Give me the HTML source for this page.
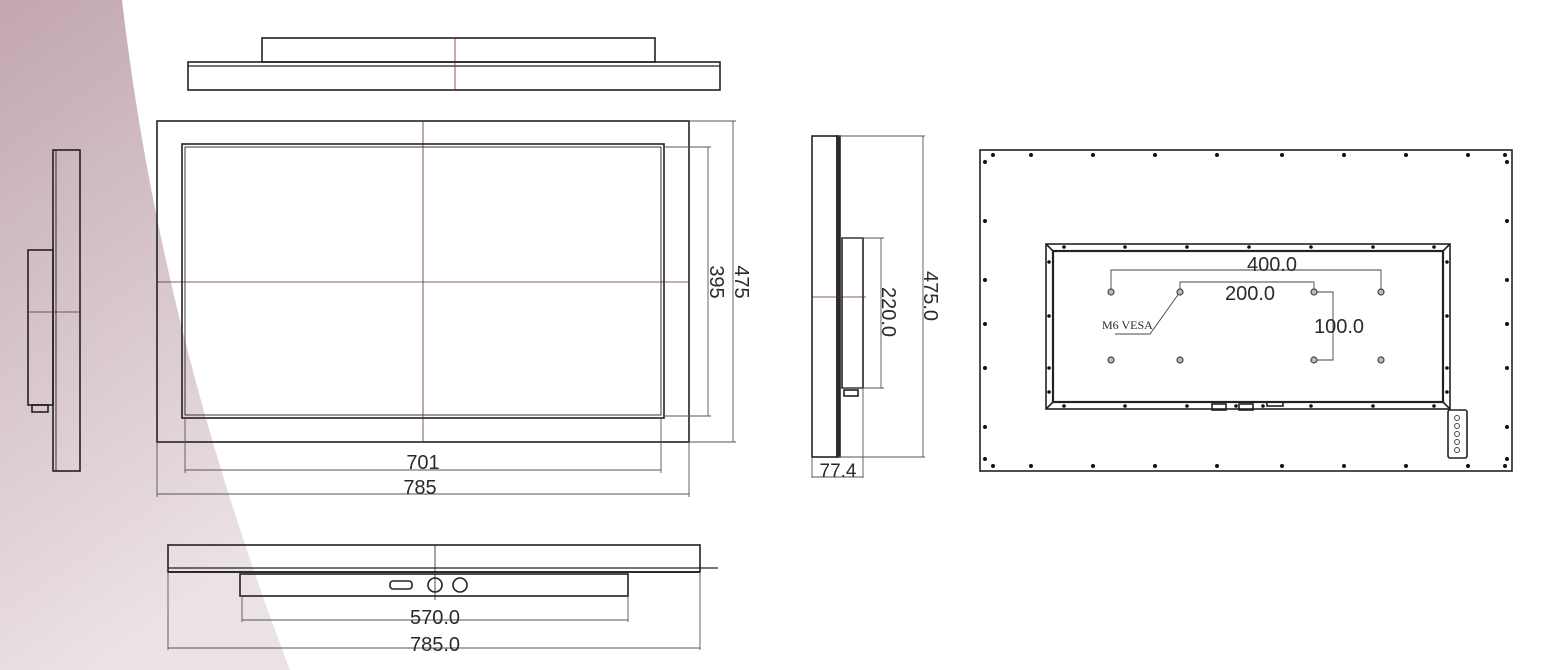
<!DOCTYPE html>
<html><head><meta charset="utf-8"><style>
html,body{margin:0;padding:0;background:#fff;width:1543px;height:670px;overflow:hidden}
svg{display:block}
text{font-family:"Liberation Sans",sans-serif;fill:#2a2a2a}
</style></head><body>
<svg width="1543" height="670" viewBox="0 0 1543 670" xmlns="http://www.w3.org/2000/svg">
<defs>
<linearGradient id="bg" x1="0" y1="0" x2="0.3" y2="1">
<stop offset="0" stop-color="#c2a6b1"/><stop offset="1" stop-color="#ebe2e6"/>
</linearGradient>
</defs>
<path d="M0,0 L122,0 Q160,330 290,670 L0,670 Z" fill="url(#bg)"/>
<g fill="none" stroke="#222" stroke-width="1.6">
<rect x="262" y="38" width="393" height="24"/>
<rect x="188" y="62" width="532" height="28"/>
<line x1="188" y1="66" x2="720" y2="66" stroke-width="1.2"/>
<line x1="455" y1="38" x2="455" y2="90" stroke="#7a2a2a" stroke-width="0.8"/>
<rect x="157" y="121" width="532" height="321"/>
<rect x="182" y="144" width="482" height="274"/>
<rect x="185" y="147" width="476" height="268" stroke-width="0.9"/>
<line x1="423" y1="121" x2="423" y2="442" stroke="#5a2a2a" stroke-width="0.8"/>
<line x1="157" y1="282" x2="689" y2="282" stroke="#5a2a2a" stroke-width="0.8"/>
<g stroke="#555" stroke-width="0.9">
<line x1="689" y1="121" x2="736" y2="121"/><line x1="689" y1="442" x2="736" y2="442"/>
<line x1="733" y1="121" x2="733" y2="442"/>
<line x1="664" y1="147" x2="711" y2="147"/><line x1="664" y1="416" x2="711" y2="416"/>
<line x1="708" y1="147" x2="708" y2="416"/>
<line x1="185" y1="418" x2="185" y2="473"/><line x1="661" y1="418" x2="661" y2="473"/>
<line x1="185" y1="470" x2="661" y2="470"/>
<line x1="157" y1="442" x2="157" y2="497"/><line x1="689" y1="442" x2="689" y2="497"/>
<line x1="157" y1="494" x2="689" y2="494"/>
</g>
<rect x="53" y="150" width="27" height="321"/>
<line x1="56" y1="150" x2="56" y2="471" stroke-width="0.9"/>
<rect x="28" y="250" width="25" height="155"/>
<line x1="28" y1="312" x2="80" y2="312" stroke="#5a2a2a" stroke-width="0.8"/>
<rect x="32" y="405" width="16" height="7"/>
<rect x="812" y="136" width="25" height="321"/>
<rect x="837" y="136" width="3" height="321" fill="#333"/>
<rect x="842" y="238" width="21" height="150"/>
<rect x="844" y="390" width="14" height="6"/>
<line x1="812" y1="297" x2="866" y2="297" stroke="#5a2a2a" stroke-width="0.8"/>
<g stroke="#555" stroke-width="0.9">
<line x1="842" y1="238" x2="884" y2="238"/><line x1="842" y1="388" x2="884" y2="388"/>
<line x1="881" y1="238" x2="881" y2="388"/>
<line x1="838" y1="136" x2="925" y2="136"/><line x1="838" y1="457" x2="925" y2="457"/>
<line x1="923" y1="136" x2="923" y2="457"/>
<line x1="812" y1="457" x2="812" y2="478"/><line x1="863" y1="388" x2="863" y2="478"/>
<line x1="812" y1="477" x2="863" y2="477"/>
</g>
<rect x="168" y="545" width="532" height="27"/>
<line x1="168" y1="568" x2="718" y2="568" stroke-width="1.2"/>
<line x1="168" y1="572" x2="700" y2="572" stroke-width="1.8"/>
<rect x="240" y="574" width="388" height="22"/>
<line x1="435" y1="545" x2="435" y2="600" stroke-width="0.8"/>
<circle cx="435" cy="585" r="7"/><circle cx="460" cy="585" r="7"/>
<rect x="390" y="581" width="22" height="8" rx="3"/>
<g stroke="#555" stroke-width="0.9">
<line x1="242" y1="596" x2="242" y2="622"/><line x1="628" y1="596" x2="628" y2="622"/>
<line x1="242" y1="620" x2="628" y2="620"/>
<line x1="168" y1="572" x2="168" y2="650"/><line x1="700" y1="572" x2="700" y2="650"/>
<line x1="168" y1="648" x2="700" y2="648"/>
</g>
<rect x="980" y="150" width="532" height="321"/>
<rect x="1046" y="244" width="404" height="165"/>
<rect x="1053" y="251" width="390" height="151" stroke-width="2.2"/>
<line x1="1046" y1="244" x2="1053" y2="251"/><line x1="1450" y1="244" x2="1443" y2="251"/>
<line x1="1046" y1="409" x2="1053" y2="402"/><line x1="1450" y1="409" x2="1443" y2="402"/>
<rect x="1448" y="410" width="19" height="48" rx="2"/>
<rect x="1212" y="404" width="14" height="6"/><rect x="1239" y="404" width="14" height="6"/>
<rect x="1267" y="402" width="16" height="4"/>
<g stroke="#444" stroke-width="0.9">
<polyline points="1111,292 1111,270 1381,270 1381,292"/>
<polyline points="1180,292 1180,282 1314,282 1314,292"/>
<polyline points="1314,292 1333,292 1333,360 1314,360"/>
<polyline points="1180,292 1150,334 1115,334"/>
</g>
<g stroke="#444" fill="#bbb" stroke-width="1.2">
<circle cx="1111" cy="292" r="3"/><circle cx="1180" cy="292" r="3"/><circle cx="1314" cy="292" r="3"/><circle cx="1381" cy="292" r="3"/>
<circle cx="1111" cy="360" r="3"/><circle cx="1180" cy="360" r="3"/><circle cx="1314" cy="360" r="3"/><circle cx="1381" cy="360" r="3"/>
</g>
<g stroke="#444" stroke-width="1">
<circle cx="1457" cy="418" r="2.5"/><circle cx="1457" cy="426" r="2.5"/><circle cx="1457" cy="434" r="2.5"/><circle cx="1457" cy="442" r="2.5"/><circle cx="1457" cy="450" r="2.5"/>
</g>
</g>
<g fill="#111">
<circle cx="993" cy="155" r="2"/><circle cx="1031" cy="155" r="2"/><circle cx="1093" cy="155" r="2"/><circle cx="1155" cy="155" r="2"/><circle cx="1217" cy="155" r="2"/><circle cx="1282" cy="155" r="2"/><circle cx="1344" cy="155" r="2"/><circle cx="1406" cy="155" r="2"/><circle cx="1468" cy="155" r="2"/><circle cx="1505" cy="155" r="2"/>
<circle cx="993" cy="466" r="2"/><circle cx="1031" cy="466" r="2"/><circle cx="1093" cy="466" r="2"/><circle cx="1155" cy="466" r="2"/><circle cx="1217" cy="466" r="2"/><circle cx="1282" cy="466" r="2"/><circle cx="1344" cy="466" r="2"/><circle cx="1406" cy="466" r="2"/><circle cx="1468" cy="466" r="2"/><circle cx="1505" cy="466" r="2"/>
<circle cx="985" cy="162" r="2"/><circle cx="985" cy="221" r="2"/><circle cx="985" cy="280" r="2"/><circle cx="985" cy="324" r="2"/><circle cx="985" cy="368" r="2"/><circle cx="985" cy="427" r="2"/><circle cx="985" cy="459" r="2"/>
<circle cx="1507" cy="162" r="2"/><circle cx="1507" cy="221" r="2"/><circle cx="1507" cy="280" r="2"/><circle cx="1507" cy="324" r="2"/><circle cx="1507" cy="368" r="2"/><circle cx="1507" cy="427" r="2"/><circle cx="1507" cy="459" r="2"/>
<circle cx="1064" cy="247" r="1.8"/><circle cx="1125" cy="247" r="1.8"/><circle cx="1187" cy="247" r="1.8"/><circle cx="1249" cy="247" r="1.8"/><circle cx="1311" cy="247" r="1.8"/><circle cx="1373" cy="247" r="1.8"/><circle cx="1434" cy="247" r="1.8"/>
<circle cx="1064" cy="406" r="1.8"/><circle cx="1125" cy="406" r="1.8"/><circle cx="1187" cy="406" r="1.8"/><circle cx="1236" cy="406" r="1.8"/><circle cx="1263" cy="406" r="1.8"/><circle cx="1311" cy="406" r="1.8"/><circle cx="1373" cy="406" r="1.8"/><circle cx="1434" cy="406" r="1.8"/>
<circle cx="1049" cy="262" r="1.8"/><circle cx="1049" cy="316" r="1.8"/><circle cx="1049" cy="368" r="1.8"/><circle cx="1049" cy="392" r="1.8"/>
<circle cx="1447" cy="262" r="1.8"/><circle cx="1447" cy="316" r="1.8"/><circle cx="1447" cy="368" r="1.8"/><circle cx="1447" cy="392" r="1.8"/>
</g>
<text x="423" y="469" font-size="20" text-anchor="middle">701</text>
<text x="420" y="494" font-size="20" text-anchor="middle">785</text>
<text transform="translate(735,282) rotate(90)" font-size="20" text-anchor="middle">475</text>
<text transform="translate(710,282) rotate(90)" font-size="20" text-anchor="middle">395</text>
<text transform="translate(882,312) rotate(90)" font-size="20" text-anchor="middle">220.0</text>
<text transform="translate(924,296) rotate(90)" font-size="20" text-anchor="middle">475.0</text>
<text x="838" y="477" font-size="19" text-anchor="middle">77.4</text>
<text x="435" y="624" font-size="20" text-anchor="middle">570.0</text>
<text x="435" y="651" font-size="20" text-anchor="middle">785.0</text>
<text x="1272" y="271" font-size="20" text-anchor="middle">400.0</text>
<text x="1250" y="300" font-size="20" text-anchor="middle">200.0</text>
<text x="1339" y="333" font-size="20" text-anchor="middle">100.0</text>
<text x="1102" y="329" font-size="12" style="font-family:'Liberation Serif',serif" fill="#555">M6 VESA</text>
</svg>
</body></html>
